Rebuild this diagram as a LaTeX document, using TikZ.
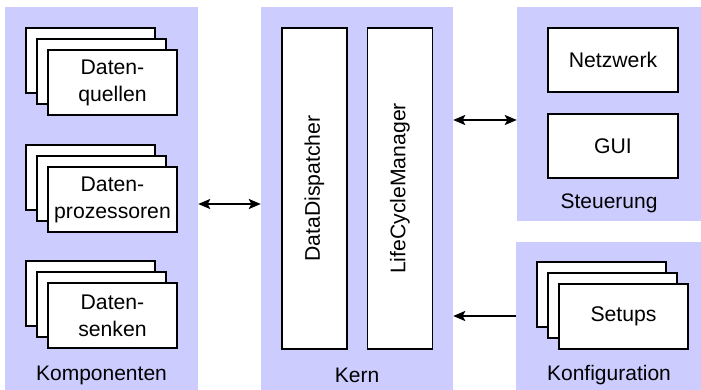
\documentclass[tikz,border=0pt]{standalone}
\usepackage{fontspec}
\setmainfont{Liberation Sans}
\usetikzlibrary{arrows.meta}
\definecolor{panelc}{HTML}{CCCCFF}
\tikzset{
  panel/.style={fill=panelc, draw=none, inner sep=0pt},
  card/.style={draw=black, fill=white, line width=1.4pt, minimum width=129pt, minimum height=65pt, inner sep=0pt, align=center, font=\fontsize{21.2}{27}\selectfont},
  tall/.style={draw=black, fill=white, line width=1.4pt, minimum width=65pt, minimum height=321pt, inner sep=0pt, font=\fontsize{21.2}{25}\selectfont},
  plabel/.style={font=\fontsize{21}{25}\selectfont, inner sep=0pt},
  arr/.style={line width=1.9pt, -{Stealth[length=12pt,width=10pt,inset=2.5pt]}},
  darr/.style={line width=1.9pt, {Stealth[length=12pt,width=10pt,inset=2.5pt]}-{Stealth[length=12pt,width=10pt,inset=2.5pt]}}
}
\begin{document}
\begin{tikzpicture}[x=1pt,y=-1pt]
\useasboundingbox (0,0) rectangle (701,390);
% panels
\node[panel, minimum width=193pt, minimum height=383pt] (komp) at (101.5,198.5) {};
\node[panel, minimum width=192pt, minimum height=383pt] (kern) at (357,198.5) {};
\node[panel, minimum width=184pt, minimum height=214pt] (steu) at (609,114) {};
\node[panel, minimum width=185pt, minimum height=148pt] (konf) at (608.5,316) {};
% Komponenten
\node[card] (q3) at (90.5,60.5) {};
\node[card] (q2) at (101.5,71.5) {};
\node[card] (q1) at (112.5,82.5) {Daten-\\quellen};
\node[card] (p3) at (90.5,177.5) {};
\node[card] (p2) at (101.5,188.5) {};
\node[card] (p1) at (112.5,199.5) {Daten-\\prozessoren};
\node[card] (s3) at (90.5,293.5) {};
\node[card] (s2) at (101.5,304.5) {};
\node[card] (s1) at (112.5,315.5) {Daten-\\senken};
\node[plabel] (kompl) at (101.5,375) {Komponenten};
% Kern
\node[tall] (dd) at (314.5,188.5) {\rotatebox{90}{DataDispatcher}};
\node[tall] (lcm) at (400,188.5) {\rotatebox{90}{LifeCycleManager}};
\node[plabel] (kernl) at (357,375) {Kern};
% Steuerung
\node[card, minimum width=130pt, minimum height=64pt] (netz) at (613,60) {Netzwerk};
\node[card, minimum width=130pt, minimum height=64pt] (gui) at (613,146) {GUI};
\node[plabel] (steul) at (609,203) {Steuerung};
% Konfiguration
\node[card] (c3) at (601.5,294.5) {};
\node[card] (c2) at (612.5,305.5) {};
\node[card] (c1) at (623.5,316.5) {Setups};
\node[plabel] (konfl) at (609,375) {Konfiguration};
% arrows
\draw[darr] ([yshift=-5.5pt]komp.east) -- ([yshift=-5.5pt]kern.west);
\draw[darr] ([yshift=78.5pt]kern.east) -- ([yshift=-6pt]steu.west);
\draw[arr] (konf.west) -- ([yshift=-117.5pt]kern.east);
\end{tikzpicture}
\end{document}
